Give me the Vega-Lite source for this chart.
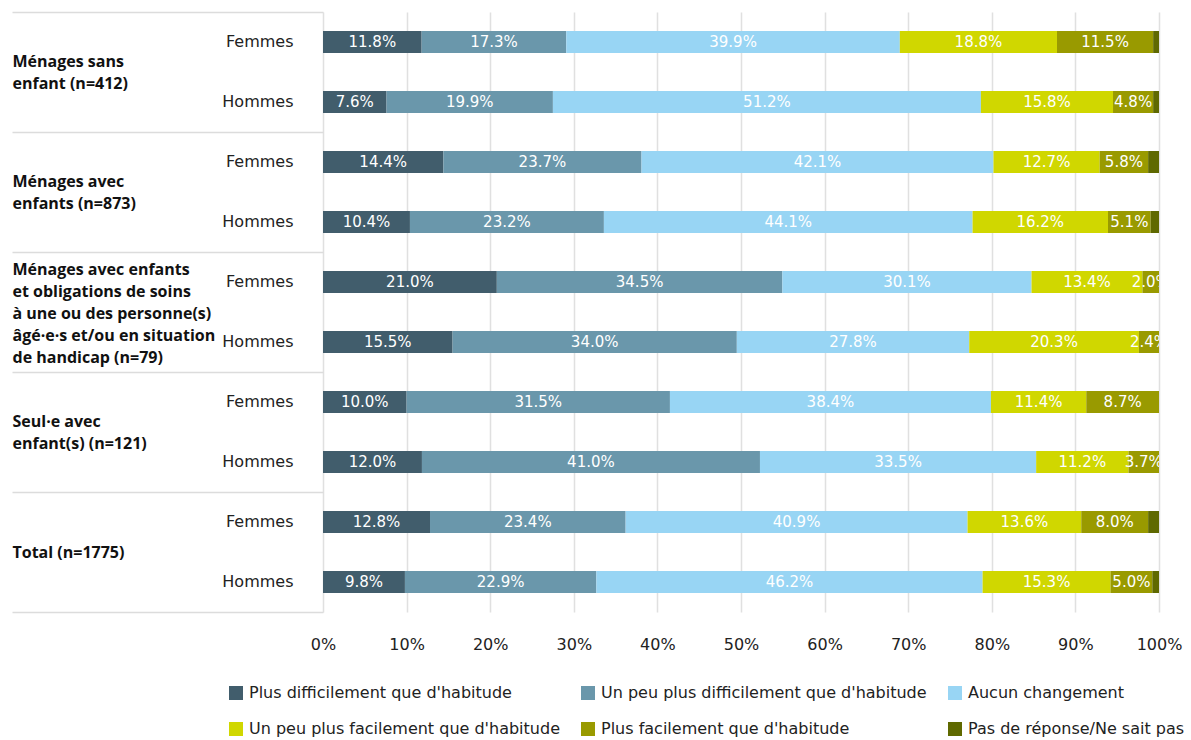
{
  "$schema": "https://vega.github.io/schema/vega-lite/v6.json",
  "autosize": {"type": "none"},
  "padding": {"left": 323, "top": 12, "right": 32, "bottom": 128},
  "width": 836,
  "height": 600,
  "config": {"font": "DejaVu Sans", "view": {"stroke": null}},
  "datasets": {
    "bars": [
      {"r": "1 Femmes", "o": 1, "c": "Plus difficilement que d'habitude", "v": 0.118},
      {"r": "1 Femmes", "o": 2, "c": "Un peu plus difficilement que d'habitude", "v": 0.173},
      {"r": "1 Femmes", "o": 3, "c": "Aucun changement", "v": 0.399},
      {"r": "1 Femmes", "o": 4, "c": "Un peu plus facilement que d'habitude", "v": 0.188},
      {"r": "1 Femmes", "o": 5, "c": "Plus facilement que d'habitude", "v": 0.115},
      {"r": "1 Femmes", "o": 6, "c": "Pas de réponse/Ne sait pas", "v": 0.007},
      {"r": "1 Hommes", "o": 1, "c": "Plus difficilement que d'habitude", "v": 0.076},
      {"r": "1 Hommes", "o": 2, "c": "Un peu plus difficilement que d'habitude", "v": 0.199},
      {"r": "1 Hommes", "o": 3, "c": "Aucun changement", "v": 0.512},
      {"r": "1 Hommes", "o": 4, "c": "Un peu plus facilement que d'habitude", "v": 0.158},
      {"r": "1 Hommes", "o": 5, "c": "Plus facilement que d'habitude", "v": 0.048},
      {"r": "1 Hommes", "o": 6, "c": "Pas de réponse/Ne sait pas", "v": 0.007},
      {"r": "2 Femmes", "o": 1, "c": "Plus difficilement que d'habitude", "v": 0.144},
      {"r": "2 Femmes", "o": 2, "c": "Un peu plus difficilement que d'habitude", "v": 0.237},
      {"r": "2 Femmes", "o": 3, "c": "Aucun changement", "v": 0.421},
      {"r": "2 Femmes", "o": 4, "c": "Un peu plus facilement que d'habitude", "v": 0.127},
      {"r": "2 Femmes", "o": 5, "c": "Plus facilement que d'habitude", "v": 0.058},
      {"r": "2 Femmes", "o": 6, "c": "Pas de réponse/Ne sait pas", "v": 0.013},
      {"r": "2 Hommes", "o": 1, "c": "Plus difficilement que d'habitude", "v": 0.104},
      {"r": "2 Hommes", "o": 2, "c": "Un peu plus difficilement que d'habitude", "v": 0.232},
      {"r": "2 Hommes", "o": 3, "c": "Aucun changement", "v": 0.441},
      {"r": "2 Hommes", "o": 4, "c": "Un peu plus facilement que d'habitude", "v": 0.162},
      {"r": "2 Hommes", "o": 5, "c": "Plus facilement que d'habitude", "v": 0.051},
      {"r": "2 Hommes", "o": 6, "c": "Pas de réponse/Ne sait pas", "v": 0.010},
      {"r": "3 Femmes", "o": 1, "c": "Plus difficilement que d'habitude", "v": 0.210},
      {"r": "3 Femmes", "o": 2, "c": "Un peu plus difficilement que d'habitude", "v": 0.345},
      {"r": "3 Femmes", "o": 3, "c": "Aucun changement", "v": 0.301},
      {"r": "3 Femmes", "o": 4, "c": "Un peu plus facilement que d'habitude", "v": 0.134},
      {"r": "3 Femmes", "o": 5, "c": "Plus facilement que d'habitude", "v": 0.020},
      {"r": "3 Femmes", "o": 6, "c": "Pas de réponse/Ne sait pas", "v": 0},
      {"r": "3 Hommes", "o": 1, "c": "Plus difficilement que d'habitude", "v": 0.155},
      {"r": "3 Hommes", "o": 2, "c": "Un peu plus difficilement que d'habitude", "v": 0.340},
      {"r": "3 Hommes", "o": 3, "c": "Aucun changement", "v": 0.278},
      {"r": "3 Hommes", "o": 4, "c": "Un peu plus facilement que d'habitude", "v": 0.203},
      {"r": "3 Hommes", "o": 5, "c": "Plus facilement que d'habitude", "v": 0.024},
      {"r": "3 Hommes", "o": 6, "c": "Pas de réponse/Ne sait pas", "v": 0},
      {"r": "4 Femmes", "o": 1, "c": "Plus difficilement que d'habitude", "v": 0.100},
      {"r": "4 Femmes", "o": 2, "c": "Un peu plus difficilement que d'habitude", "v": 0.315},
      {"r": "4 Femmes", "o": 3, "c": "Aucun changement", "v": 0.384},
      {"r": "4 Femmes", "o": 4, "c": "Un peu plus facilement que d'habitude", "v": 0.114},
      {"r": "4 Femmes", "o": 5, "c": "Plus facilement que d'habitude", "v": 0.087},
      {"r": "4 Femmes", "o": 6, "c": "Pas de réponse/Ne sait pas", "v": 0},
      {"r": "4 Hommes", "o": 1, "c": "Plus difficilement que d'habitude", "v": 0.120},
      {"r": "4 Hommes", "o": 2, "c": "Un peu plus difficilement que d'habitude", "v": 0.410},
      {"r": "4 Hommes", "o": 3, "c": "Aucun changement", "v": 0.335},
      {"r": "4 Hommes", "o": 4, "c": "Un peu plus facilement que d'habitude", "v": 0.112},
      {"r": "4 Hommes", "o": 5, "c": "Plus facilement que d'habitude", "v": 0.037},
      {"r": "4 Hommes", "o": 6, "c": "Pas de réponse/Ne sait pas", "v": 0},
      {"r": "5 Femmes", "o": 1, "c": "Plus difficilement que d'habitude", "v": 0.128},
      {"r": "5 Femmes", "o": 2, "c": "Un peu plus difficilement que d'habitude", "v": 0.234},
      {"r": "5 Femmes", "o": 3, "c": "Aucun changement", "v": 0.409},
      {"r": "5 Femmes", "o": 4, "c": "Un peu plus facilement que d'habitude", "v": 0.136},
      {"r": "5 Femmes", "o": 5, "c": "Plus facilement que d'habitude", "v": 0.080},
      {"r": "5 Femmes", "o": 6, "c": "Pas de réponse/Ne sait pas", "v": 0.013},
      {"r": "5 Hommes", "o": 1, "c": "Plus difficilement que d'habitude", "v": 0.098},
      {"r": "5 Hommes", "o": 2, "c": "Un peu plus difficilement que d'habitude", "v": 0.229},
      {"r": "5 Hommes", "o": 3, "c": "Aucun changement", "v": 0.462},
      {"r": "5 Hommes", "o": 4, "c": "Un peu plus facilement que d'habitude", "v": 0.153},
      {"r": "5 Hommes", "o": 5, "c": "Plus facilement que d'habitude", "v": 0.050},
      {"r": "5 Hommes", "o": 6, "c": "Pas de réponse/Ne sait pas", "v": 0.008}
    ],
    "groups": [
      {"g": "Ménages sans|enfant (n=412)"},
      {"g": "Ménages avec|enfants (n=873)"},
      {"g": "Ménages avec enfants|et obligations de soins|à une ou des personne(s)|âgé·e·s et/ou en situation|de handicap (n=79)"},
      {"g": "Seul·e avec|enfant(s) (n=121)"},
      {"g": "Total (n=1775)"}
    ]
  },
  "layer": [
    {
      "data": {"name": "bars"},
      "layer": [
        {
          "mark": {"type": "bar", "size": 22},
          "encoding": {
            "y": {
              "field": "r", "type": "nominal", "sort": "ascending",
              "scale": {"paddingInner": 0, "paddingOuter": 0},
              "axis": {
                "orient": "left", "title": null, "ticks": false, "domain": false, "grid": false,
                "labelExpr": "slice(datum.value, 2)", "labelAlign": "right", "labelPadding": 30,
                "labelFontSize": 16, "labelColor": "#222222"
              }
            },
            "x": {
              "field": "v", "type": "quantitative", "stack": "normalize",
              "axis": {
                "title": null, "format": ".0%", "values": [0, 0.1, 0.2, 0.3, 0.4, 0.5, 0.6, 0.7, 0.8, 0.9, 1],
                "grid": true, "gridColor": "#e0e0e0", "gridWidth": 1.5, "domain": false, "ticks": false,
                "labelFlush": false, "labelPadding": 24, "labelFontSize": 16, "labelColor": "#222222"
              }
            },
            "color": {
              "field": "c", "type": "nominal",
              "scale": {
                "domain": ["Plus difficilement que d'habitude", "Un peu plus difficilement que d'habitude", "Aucun changement", "Un peu plus facilement que d'habitude", "Plus facilement que d'habitude", "Pas de réponse/Ne sait pas"],
                "range": ["#415d6c", "#6a97ab", "#98d5f4", "#d0d700", "#999a00", "#5f6900"]
              },
              "legend": {
                "title": null, "orient": "none", "legendX": -95, "legendY": 673, "columns": 3, "direction": "horizontal",
                "symbolType": "square", "symbolSize": 196, "symbolStrokeWidth": 0,
                "labelFontSize": 16, "labelColor": "#222222", "labelLimit": 500,
                "rowPadding": 20, "columnPadding": 20, "labelOffset": 5
              }
            },
            "order": {"field": "o", "type": "quantitative"}
          }
        },
        {
          "mark": {"type": "text", "color": "white", "fontSize": 15, "clip": true, "baseline": "middle"},
          "encoding": {
            "y": {"field": "r", "type": "nominal", "sort": "ascending", "scale": {"paddingInner": 0, "paddingOuter": 0}},
            "x": {"field": "v", "type": "quantitative", "stack": "normalize", "bandPosition": 0.5},
            "detail": {"field": "c", "type": "nominal"},
            "order": {"field": "o", "type": "quantitative"},
            "text": {
              "condition": {"test": "datum.c === 'Pas de réponse/Ne sait pas'", "value": ""},
              "field": "v", "type": "quantitative", "format": ".1%"
            }
          }
        }
      ]
    },
    {
      "data": {"name": "groups"},
      "mark": {"type": "bar", "opacity": 0},
      "encoding": {
        "y": {
          "field": "g", "type": "nominal", "sort": null,
          "scale": {"paddingInner": 0, "paddingOuter": 0},
          "axis": {
            "orient": "left", "title": null, "domain": false, "grid": false, "labels": false,
            "tickBand": "extent", "tickSize": 311, "tickColor": "#dcdcdc", "tickWidth": 1.5
          }
        }
      }
    },
    {
      "data": {"name": "groups"},
      "mark": {"type": "bar", "opacity": 0},
      "encoding": {
        "y": {
          "field": "g", "type": "nominal", "sort": null,
          "scale": {"paddingInner": 0, "paddingOuter": 0},
          "axis": {
            "orient": "left", "title": null, "domain": false, "grid": false, "ticks": false,
            "labelExpr": "split(datum.value, '|')", "labelAlign": "left", "labelBaseline": "middle",
            "labelOffset": {
              "condition": [
                {"test": "indexof(datum.value, 'handicap') >= 0", "value": -42},
                {"test": "datum.value === 'Total (n=1775)'", "value": 1}
              ],
              "value": -10
            },
            "labelPadding": 311, "labelFont": "Open Sans", "labelFontSize": 16, "labelFontWeight": "bold", "labelLineHeight": 22,
            "labelLimit": 400, "labelOverlap": false, "labelColor": "#111111"
          }
        }
      }
    }
  ],
  "resolve": {"scale": {"y": "independent"}, "axis": {"y": "independent"}}
}
